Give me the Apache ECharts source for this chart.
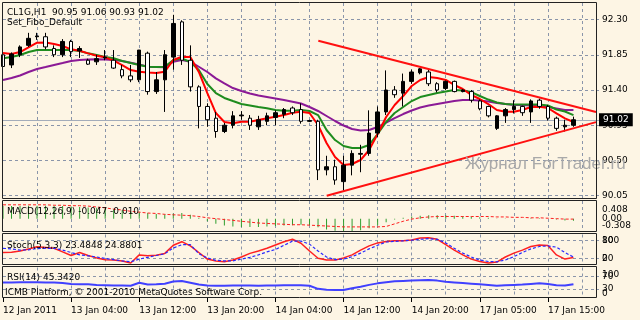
<!DOCTYPE html>
<html><head><meta charset="utf-8">
<script src="https://cdn.jsdelivr.net/npm/echarts@6/dist/echarts.min.js"></script>
<style>html,body{margin:0;padding:0;background:#fdf5e4;}#c{width:640px;height:320px;}</style>
</head><body><div id="c"></div>
<script>
// ---------- data ----------
const timeLabels = ['12 Jan 2011','13 Jan 04:00','13 Jan 12:00','13 Jan 20:00','14 Jan 04:00','14 Jan 12:00','14 Jan 20:00','17 Jan 05:00','17 Jan 15:00'];
const slotCount = 71;
// [open, close, low, high]
const candles = [
 [91.85,91.70,91.66,91.89],[91.72,91.86,91.68,91.88],[91.85,91.95,91.82,91.97],[91.97,92.06,91.95,92.13],
 [92.08,92.09,92.04,92.13],[92.08,91.95,91.92,92.13],[91.93,91.85,91.82,91.97],[91.85,92.02,91.82,92.05],
 [92.02,91.89,91.82,92.04],[91.90,91.93,91.81,91.96],[91.78,91.73,91.72,91.80],[91.76,91.80,91.72,91.85],
 [91.81,91.82,91.78,91.91],[91.78,91.68,91.67,91.91],[91.66,91.58,91.55,91.72],[91.58,91.53,91.50,91.72],
 [91.53,91.91,91.50,91.91],[91.87,91.38,91.34,91.89],[91.38,91.53,91.35,91.63],[91.53,91.85,91.12,91.91],
 [91.82,92.25,91.66,92.36],[92.27,91.78,91.72,92.29],[91.78,91.44,91.38,91.97],[91.44,91.19,90.91,91.46],
 [91.19,91.02,90.93,91.23],[91.04,90.87,90.79,91.12],[90.87,90.95,90.85,90.98],[90.95,91.07,90.91,91.13],
 [91.07,91.08,91.02,91.13],[91.04,90.95,90.89,91.08],[90.93,91.02,90.89,91.07],[91.00,91.07,90.95,91.11],
 [91.05,91.11,90.95,91.14],[91.09,91.15,91.04,91.17],[91.17,91.11,91.08,91.19],[91.15,91.00,90.97,91.23],
 [91.00,91.01,90.99,91.02],[91.00,90.38,90.25,91.02],[90.38,90.42,90.31,90.56],[90.42,90.25,90.19,90.51],
 [90.23,90.44,90.12,90.56],[90.44,90.59,90.31,90.63],[90.58,90.59,90.35,90.70],[90.59,90.85,90.56,91.14],
 [90.85,91.12,90.80,91.19],[91.12,91.40,91.08,91.65],[91.40,91.34,91.30,91.45],[91.36,91.51,91.19,91.61],
 [91.51,91.63,91.48,91.66],[91.62,91.67,91.60,91.68],[91.63,91.48,91.45,91.66],[91.48,91.40,91.37,91.50],
 [91.42,91.51,91.40,91.52],[91.51,91.38,91.37,91.52],[91.38,91.40,91.37,91.41],[91.38,91.27,91.24,91.40],
 [91.26,91.16,91.14,91.28],[91.19,91.07,91.05,91.20],[90.91,91.07,90.89,91.08],[91.07,91.15,90.98,91.17],
 [91.15,91.19,91.10,91.27],[91.19,91.11,91.07,91.20],[91.12,91.26,90.98,91.28],[91.27,91.19,91.16,91.29],
 [91.19,91.04,91.01,91.21],[91.04,90.91,90.88,91.06],[90.93,90.95,90.87,91.02],[90.95,91.02,90.93,91.06]
];
const maFast = [91.872,91.859,91.885,91.945,92.004,92.006,91.987,91.962,91.919,91.902,
 91.868,91.838,91.817,91.774,91.719,91.655,91.633,91.623,91.617,91.633,
 91.783,91.825,91.821,91.630,91.361,91.106,90.991,90.974,90.995,90.995,
 91.017,91.038,91.059,91.080,91.110,91.123,91.106,90.953,90.723,90.544,
 90.442,90.455,90.506,90.634,90.838,91.055,91.208,91.323,91.451,91.528,
 91.566,91.553,91.528,91.464,91.413,91.336,91.285,91.221,91.144,91.123,
 91.123,91.144,91.183,91.186,91.170,91.102,91.038,90.991];
const maMid = [91.805,91.821,91.847,91.885,91.911,91.911,91.911,91.911,91.911,91.898,
 91.868,91.847,91.821,91.805,91.770,91.744,91.719,91.697,91.693,91.697,
 91.783,91.802,91.757,91.655,91.476,91.361,91.298,91.259,91.221,91.202,
 91.183,91.166,91.144,91.135,91.135,91.144,91.132,91.080,90.889,90.761,
 90.685,90.659,90.659,90.698,90.838,90.991,91.106,91.183,91.259,91.310,
 91.336,91.361,91.381,91.400,91.393,91.374,91.323,91.278,91.240,91.221,
 91.215,91.215,91.215,91.215,91.202,91.151,91.125,91.080];
const maSlow = [91.527,91.553,91.585,91.630,91.668,91.693,91.719,91.744,91.770,91.783,
 91.789,91.792,91.789,91.783,91.770,91.748,91.725,91.697,91.693,91.690,
 91.761,91.783,91.761,91.697,91.630,91.549,91.485,91.425,91.387,91.355,
 91.329,91.310,91.291,91.272,91.250,91.227,91.183,91.132,91.068,91.004,
 90.946,90.902,90.883,90.889,90.927,90.985,91.042,91.093,91.138,91.176,
 91.202,91.221,91.240,91.259,91.272,91.272,91.266,91.253,91.234,91.221,
 91.208,91.208,91.202,91.189,91.183,91.164,91.144,91.144];
const priceTicks = [90.05, 90.50, 90.95, 91.40, 91.85, 92.30];
const lastPrice = 91.02;
// trend lines: [bar position, price]
const trendUpper = [[37.03, 92.03], [69.65, 91.12]];
const trendLower = [[38.02, 90.05], [69.65, 90.99]];

const macdMain = [0.30,0.29,0.29,0.30,0.30,0.30,0.29,0.29,0.28,0.27,
 0.26,0.25,0.24,0.22,0.20,0.17,0.16,0.13,0.11,0.10,
 0.12,0.13,0.09,0.02,-0.06,-0.12,-0.16,-0.18,-0.19,-0.19,
 -0.19,-0.18,-0.17,-0.16,-0.15,-0.14,-0.15,-0.20,-0.25,-0.28,
 -0.30,-0.29,-0.27,-0.22,-0.15,-0.08,-0.02,0.02,0.05,0.07,
 0.08,0.08,0.08,0.07,0.06,0.05,0.03,0.02,-0.01,-0.01,
 0.00,0.00,0.01,0.01,0.00,-0.02,-0.04,-0.047];
const macdSignal = [0.32,0.32,0.32,0.32,0.32,0.32,0.31,0.31,0.30,0.30,
 0.29,0.27,0.25,0.22,0.20,0.17,0.15,0.13,0.12,0.10,
 0.09,0.08,0.07,0.05,0.02,0.00,-0.02,-0.04,-0.06,-0.08,
 -0.10,-0.11,-0.12,-0.13,-0.14,-0.14,-0.15,-0.16,-0.17,-0.18,
 -0.19,-0.19,-0.19,-0.19,-0.19,-0.18,-0.12,-0.06,-0.01,0.02,
 0.04,0.05,0.05,0.05,0.05,0.05,0.05,0.05,0.04,0.04,
 0.03,0.03,0.02,0.02,0.01,0.00,-0.01,-0.010];
const macdRange = [-0.308, 0.408];
const macdZero = 0;

const stochK = [40,41,45,52,59,57,54,42,30,40,
 30,22,16,15,12,5,32,29,31,37,
 64,76,62,40,18,12,9,15,25,37,
 45,54,65,76,84,71,45,21,15,15,
 22,32,48,62,72,77,79,79,82,88,
 89,84,66,48,32,18,10,5,8,25,
 38,48,60,65,63,32,18,23.48];
const stochD = [54,52,48,49,53,54,54,48,40,32,
 29,25,20,16,12,9,18,24,30,36,
 55,66,66,36,22,14,12,12,18,24,
 32,42,50,64,78,78,68,45,25,16,
 18,26,38,52,64,75,77,79,81,84,
 86,84,72,54,38,25,15,10,9,15,
 26,40,52,60,62,58,40,24.88];
const stochLevels = [80, 20];

const rsi = [51,51,51.5,52,52,51,51,49,46,45,
 45,43,42,41,41,40,50,44,45,47,
 54,56,50,44,41,40,40,41,41,41,
 40,41,41,42,42,42,40,30,27,26,
 26,32,37,43,48,52,55,56,57,58,
 59,57,53,51,49,47,45,43,40,42,
 43,44,46,48,46,42,41,45.34];
const rsiLevels = [70, 30];
const oscRange = [0, 100];

// ---------- chart ----------
const gridColor = '#8a95aa';
const fontFam = 'DejaVu Sans';
const font9 = '9px "DejaVu Sans"';
const cats = Array.from({length: slotCount}, (_, i) => String(i));
const isTimeTick = i => i % 8 === 0 && i / 8 < timeLabels.length;
const isGridLine = i => i % 4 === 0 && i > 0;

function xCat(gi, withLabels) {
  return {
    type: 'category', gridIndex: gi, data: cats, boundaryGap: false,
    axisLine: {show: false},
    axisTick: withLabels ? {show: true, interval: isTimeTick, length: 4, lineStyle: {color: '#000'}} : {show: false},
    axisLabel: withLabels ? {show: true, interval: isTimeTick, formatter: (v, i) => timeLabels[i / 8],
      align: 'left', margin: 8, fontSize: 9, fontFamily: fontFam, color: '#000'} : {show: false},
    splitLine: {show: true, interval: isGridLine, lineStyle: {color: gridColor, type: [3, 3], width: 1}}
  };
}
function yVal(gi, min, max) {
  return {type: 'value', gridIndex: gi, min, max, axisLine: {show: false}, axisTick: {show: false},
    axisLabel: {show: false}, splitLine: {show: false}};
}
function lbl(text, extra) {
  return Object.assign({show: true, position: 'end', distance: 3, formatter: text, color: '#000',
    fontSize: 9, fontFamily: fontFam}, extra || {});
}
const dashed = {color: gridColor, type: [3, 3], width: 1};
const hidden = {color: 'rgba(0,0,0,0)', width: 0};
const mlBase = {symbol: 'none', silent: true, animation: false, emphasis: {disabled: true}};

const option = {
  backgroundColor: '#fdf5e4',
  animation: false,
  grid: [
    {left: 3, top: 3, width: 596, height: 196},
    {left: 3, top: 201, width: 596, height: 31},
    {left: 3, top: 234.5, width: 596, height: 30},
    {left: 3, top: 267.5, width: 596, height: 30.5}
  ],
  xAxis: [xCat(0, false), xCat(1, false), xCat(2, false), xCat(3, true),
    {type: 'value', gridIndex: 0, min: 0, max: slotCount - 1, show: false}],
  yAxis: [yVal(0, 90.008, 92.511), yVal(1, macdRange[0], macdRange[1]), yVal(2, oscRange[0], oscRange[1]), yVal(3, oscRange[0], oscRange[1])],
  series: [
    {type: 'candlestick', xAxisIndex: 0, yAxisIndex: 0, data: candles, barWidth: 4, z: 10,
      itemStyle: {color: '#000', color0: '#fff', borderColor: '#000', borderColor0: '#000', borderWidth: 1}},
    {type: 'line', xAxisIndex: 0, yAxisIndex: 0, data: maSlow, showSymbol: false, z: 6,
      lineStyle: {color: '#8b1a96', width: 2},
      markLine: Object.assign({}, mlBase, {
        data: priceTicks.map(v => ({yAxis: v, lineStyle: dashed, label: lbl(v.toFixed(2))}))
          .concat([{yAxis: lastPrice, lineStyle: {color: '#a3acba', type: 'solid', width: 1},
            label: lbl(lastPrice.toFixed(2), {backgroundColor: '#000', color: '#fff', distance: 0, padding: [2, 4, 2, 4]})}])})},
    {type: 'line', xAxisIndex: 0, yAxisIndex: 0, data: maMid, showSymbol: false, z: 7,
      lineStyle: {color: '#1e8c1e', width: 2}},
    {type: 'line', xAxisIndex: 0, yAxisIndex: 0, data: maFast, showSymbol: false, z: 8,
      lineStyle: {color: '#ff0000', width: 2}},
    {type: 'line', xAxisIndex: 4, yAxisIndex: 0, data: trendUpper, showSymbol: false, z: 12,
      lineStyle: {color: '#ff1010', width: 2}},
    {type: 'line', xAxisIndex: 4, yAxisIndex: 0, data: trendLower, showSymbol: false, z: 12,
      lineStyle: {color: '#ff1010', width: 2}},
    {type: 'bar', xAxisIndex: 1, yAxisIndex: 1, data: macdMain, barWidth: 1, z: 5,
      itemStyle: {color: '#2f9e2f'}},
    {type: 'line', xAxisIndex: 1, yAxisIndex: 1, data: macdSignal, showSymbol: false, z: 6,
      lineStyle: {color: '#ff2020', width: 1, type: [3, 2]},
      markLine: Object.assign({}, mlBase, {data: [{yAxis: macdZero, lineStyle: hidden, label: lbl('0.00')}]})},
    {type: 'line', xAxisIndex: 2, yAxisIndex: 2, data: stochK, showSymbol: false, z: 6,
      lineStyle: {color: '#ff2020', width: 1.5},
      markLine: Object.assign({}, mlBase, {data: stochLevels.map(v => ({yAxis: v, lineStyle: dashed, label: lbl(String(v))}))})},
    {type: 'line', xAxisIndex: 2, yAxisIndex: 2, data: stochD, showSymbol: false, z: 7,
      lineStyle: {color: '#2828ff', width: 1.2, type: [3, 2]}},
    {type: 'line', xAxisIndex: 3, yAxisIndex: 3, data: rsi, showSymbol: false, z: 6,
      lineStyle: {color: '#4040ff', width: 2},
      markLine: Object.assign({}, mlBase, {data: rsiLevels.map(v => ({yAxis: v, lineStyle: dashed, label: lbl(String(v))}))})}
  ]
};
const chart = echarts.init(document.getElementById('c'), null, {renderer: 'canvas'});
chart.setOption(option);

// MT4 draws each sub-window's max/min scale labels inset from the window edge
const insetLabels = [
  {axis: 1, value: macdRange[1], text: macdRange[1].toFixed(3), dy: 8.5},
  {axis: 1, value: macdRange[0], text: macdRange[0].toFixed(3), dy: -6},
  {axis: 2, value: oscRange[1], text: String(oscRange[1]), dy: 6.5},
  {axis: 2, value: oscRange[0], text: String(oscRange[0]), dy: -5.5},
  {axis: 3, value: oscRange[1], text: String(oscRange[1]), dy: 7.5},
  {axis: 3, value: oscRange[0], text: String(oscRange[0]), dy: -4}
];
const labelX = chart.convertToPixel({xAxisIndex: 3}, slotCount - 1) + 3;
const frameStyle = {fill: null, stroke: '#222', lineWidth: 1};
const els = [
  {type: 'rect', z: 100, silent: true, shape: {x: 2.5, y: 2.5, width: 594, height: 196}, style: frameStyle},
  {type: 'rect', z: 100, silent: true, shape: {x: 2.5, y: 200.5, width: 594, height: 31}, style: frameStyle},
  {type: 'rect', z: 100, silent: true, shape: {x: 2.5, y: 233.5, width: 594, height: 31}, style: frameStyle},
  {type: 'rect', z: 100, silent: true, shape: {x: 2.5, y: 266.5, width: 594, height: 31}, style: frameStyle},
  {type: 'text', z: 100, x: 7, y: 13, style: {text: 'CL1G,H1  90.95 91.06 90.93 91.02', font: font9, fill: '#000', verticalAlign: 'middle'}},
  {type: 'text', z: 100, x: 7, y: 23, style: {text: 'Set_Fibo_Default', font: font9, fill: '#000', verticalAlign: 'middle'}},
  {type: 'text', z: 100, x: 7, y: 212, style: {text: 'MACD(12,26,9) -0.047 -0.010', font: font9, fill: '#000', verticalAlign: 'middle'}},
  {type: 'text', z: 100, x: 7, y: 246, style: {text: 'Stoch(5,3,3) 23.4848 24.8801', font: font9, fill: '#000', verticalAlign: 'middle'}},
  {type: 'text', z: 100, x: 7, y: 278, style: {text: 'RSI(14) 45.3420', font: font9, fill: '#000', verticalAlign: 'middle'}},
  {type: 'text', z: 100, x: 5, y: 293, style: {text: 'ICMB Platform, © 2001-2010 MetaQuotes Software Corp.', font: font9, fill: '#000', verticalAlign: 'middle'}},
  {type: 'text', z: 90, x: 465, y: 164, style: {text: 'Журнал ForTrader.ru', font: '17px "Liberation Sans"', fill: '#a9a9a9', verticalAlign: 'middle'}}
].concat(insetLabels.map(l => ({
  type: 'text', z: 100, x: labelX,
  y: chart.convertToPixel({yAxisIndex: l.axis}, l.value) + l.dy,
  style: {text: l.text, font: font9, fill: '#000', verticalAlign: 'middle'}
})));
chart.setOption({graphic: {elements: els}});
</script>
</body></html>
